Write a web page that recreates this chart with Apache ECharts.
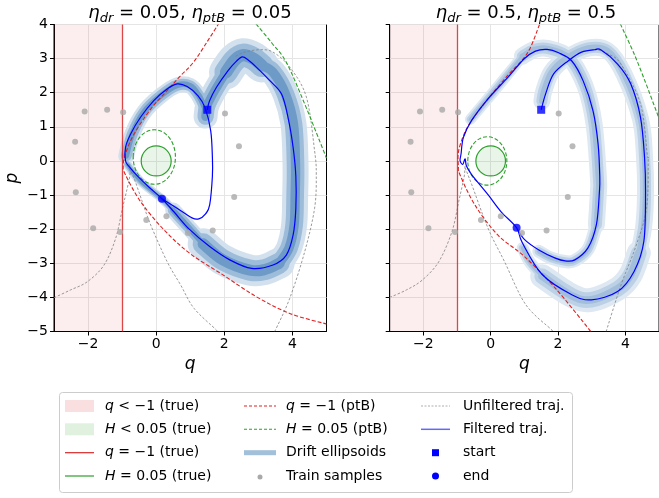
<!DOCTYPE html>
<html><head><meta charset="utf-8">
<script src="https://cdn.jsdelivr.net/npm/echarts@6/dist/echarts.min.js"></script>
<style>html,body{margin:0;padding:0;background:#fff}#c{width:659px;height:498px}</style>
</head><body><div id="c"></div>
<script>
// ---------------- data ----------------
const xTicks = [-2, 0, 2, 4];
const yRange = [-5, 4];
const xRange = [-3, 5];
const titleLeft = '{e|η}{s|dr}{n| = 0.05, }{e|η}{s|ptB}{n| = 0.05}';
const titleRight = '{e|η}{s|dr}{n| = 0.5, }{e|η}{s|ptB}{n| = 0.5}';
const qBoundary = -1;                 // q = -1 (true)
const hCircleTrue = [0, 0, 0.44, 0.44];
const hEllipsePtBLeft = [-0.055, 0.115, 0.62, 0.80];
const hEllipsePtBRight = [-0.1, 0.0, 0.58, 0.71];

const trainSamples = [[-2.10,1.45],[-1.44,1.50],[-0.97,1.43],[-2.38,0.56],[-2.36,-0.92],[-1.85,-1.97],[-1.06,-2.08],
  [-0.29,-1.73],[0.30,-1.62],[0.93,-2.11],[1.66,-2.04],[2.29,-1.06],[2.43,0.43],[2.02,1.39]];

const startLeft = [1.5, 1.5], endLeft = [0.17, -1.11];
const startRight = [1.5, 1.5], endRight = [0.77, -1.96];

const leftFiltered = [[1.5,1.5],[1.57,1.77],[1.77,2.16],[2.11,2.65],[2.35,2.92],[2.53,3.05],[2.7,2.96],[2.94,2.75],[3.33,2.36],
  [3.68,1.96],[3.87,1.28],[4.02,0.4],[4.1,-0.45],[4.1,-1.39],[4.02,-2.17],[3.82,-2.76],[3.43,-3.05],[2.8,-3.15],[2.16,-2.9],
  [1.57,-2.51],[0.97,-2.0],[0.52,-1.49],[0.17,-1.11],[-0.2,-0.78],[-0.56,-0.43],[-0.78,-0.18],[-0.9,0.0],[-0.9,0.4],
  [-0.75,0.79],[-0.46,1.28],[-0.07,1.77],[0.32,2.11],[0.62,2.26],[0.91,2.18],[1.23,1.91],[1.43,1.57],[1.6,0.89],[1.65,0.11],
  [1.65,-0.45],[1.57,-1.29],[1.45,-1.55],[1.25,-1.7],[1.05,-1.67],[0.6,-1.38],[0.17,-1.11]];
const rightFiltered = [[1.5,1.5],[1.63,1.96],[1.87,2.55],[2.31,2.94],[2.7,3.19],[3.09,3.26],[3.28,3.25],[3.77,2.84],[4.16,2.26],
  [4.45,1.28],[4.57,0.11],[4.6,-0.9],[4.55,-2.36],[4.26,-3.24],[3.77,-3.83],[2.99,-4.07],[2.41,-3.92],[1.53,-3.33],[0.94,-2.4],
  [0.77,-1.96],[0.31,-1.49],[-0.08,-0.99],[-0.56,-0.41],[-0.72,-0.15],[-0.76,0.06],[-0.83,-0.1],[-0.91,0.01],[-0.88,0.21],
  [-0.81,0.69],[-0.57,1.18],[-0.08,1.82],[0.51,2.45],[0.99,2.99],[1.33,3.22],[1.68,3.27],[2.02,3.17],[2.41,2.93],[2.75,2.34],
  [3.04,1.47],[3.19,0.5],[3.24,-0.45],[3.23,-0.9],[3.14,-1.87],[2.89,-2.55],[2.5,-2.9],[2.21,-2.93],[1.92,-2.85],[1.43,-2.61],
  [1.0,-2.3],[0.77,-1.96]];

const leftUnfilteredA = [[-3.0,-4.01],[-2.51,-3.78],[-2.02,-3.54],[-1.53,-3.05],[-1.19,-2.27],[-0.99,-1.39],[-0.85,-0.8],[-0.77,-0.41],[-0.78,-0.1]];
const leftUnfilteredB = [[-0.8,-0.2],[-0.65,-0.51],[-0.41,-1.19],[-0.16,-1.88],[0.32,-2.95],[0.72,-3.64],[1.11,-4.32],[1.77,-4.96],[1.82,-5.05]];
const leftUnfilteredC = [[3.48,-5.0],[3.92,-4.03],[4.36,-2.66],[4.65,-1.39],[4.7,-0.4],[4.65,0.3],[4.41,1.87],[3.92,2.75],[3.43,3.19],[3.04,3.26],[2.6,3.19],[2.3,3.05]];
const rightUnfilteredA = [[-3.0,-4.0],[-2.5,-3.78],[-2.03,-3.49],[-1.54,-2.95],[-1.15,-2.07],[-0.95,-1.19],[-0.85,-0.75],[-0.78,-0.41],[-0.76,-0.1]];
const rightUnfilteredB = [[-0.76,-0.2],[-0.56,-0.7],[-0.08,-1.97],[0.41,-2.95],[1.04,-4.21],[1.82,-4.96],[1.86,-5.05]];
const rightUnfilteredC = [[3.43,-5.0],[3.87,-3.64],[4.31,-2.51],[4.63,-1.39],[4.68,0.0],[4.65,0.2],[4.45,1.67],[3.87,2.84],[3.48,3.14],[3.2,3.25]];

const leftQBoundPtB = [[1.85,4.05],[1.5,3.5],[1.1,2.9],[0.69,2.47],[0.32,2.06],[-0.16,1.52],[-0.65,0.79],[-0.9,0.21],[-0.97,-0.15],
  [-0.9,-0.41],[-0.46,-1.19],[0.23,-2.02],[1.0,-2.72],[1.96,-3.34],[2.94,-3.98],[3.92,-4.47],[5.0,-4.78]];
const rightQBoundPtB = [[1.45,4.0],[1.09,3.16],[0.5,2.5],[-0.08,1.82],[-0.57,1.18],[-0.81,0.74],[-0.96,0.25],[-0.96,-0.15],
  [-0.91,-0.41],[-0.47,-1.29],[0.21,-2.17],[1.0,-2.8],[1.92,-3.73],[2.94,-4.96],[2.97,-5.05]];
const leftHBoundPtB = [[2.93,4.02],[3.4,3.45],[3.82,2.89],[4.36,1.67],[5.0,0.08]];
const rightHBoundPtB = [[3.85,4.02],[4.26,3.14],[4.6,2.3],[4.84,1.67],[5.0,1.25]];

// drift-ellipsoid band centre lines
const leftBandArm = [[-0.88,0.15],[-0.7,0.79],[-0.36,1.43],[0.13,1.91],[0.62,2.22],[1.0,2.2],[1.25,1.92],[1.43,1.55]];
const leftBandUp = [[1.45,1.3],[1.5,1.62],[1.72,2.06],[2.05,2.6]];
const leftBandPeak = [[2.05,2.6],[2.3,2.95],[2.55,3.1],[2.85,3.0],[3.1,2.8]];
const leftBandRight = [[3.1,2.8],[3.43,2.6],[3.8,1.95],[4.03,1.09],[4.09,-0.09],[4.08,-1.0],[4.05,-1.88],[3.9,-2.55],[3.61,-3.0]];
const leftBandBottom = [[3.61,-3.0],[3.2,-3.18],[2.75,-3.2],[1.96,-2.9],[1.38,-2.43]];
const leftBandTaper = [[1.38,-2.43],[0.99,-1.99],[0.5,-1.45]];
const leftBandTail = [[0.5,-1.45],[0.18,-1.12],[-0.46,-0.6],[-0.85,-0.1]];
const rightBandOuter = [[1.52,1.75],[1.58,2.06],[1.8,2.6],[2.21,2.99],[2.89,3.31],[3.48,3.23],[3.96,2.55],[4.45,1.23],[4.57,0.11],[4.6,-0.9],[4.55,-1.88],[4.4,-2.7]];
const rightBandOuterBottom = [[4.4,-2.7],[4.15,-3.35],[3.77,-3.75],[2.99,-4.07],[2.41,-3.95],[1.53,-3.38]];
const rightBandOuterTail = [[1.53,-3.38],[1.15,-2.95],[0.95,-2.55]];
const rightBandArm = [[-0.6,1.22],[0.07,2.01],[0.6,2.65],[0.94,3.07]];
const rightBandArch = [[0.94,3.07],[1.3,3.27],[1.68,3.3],[2.31,3.04],[2.8,2.21],[3.07,1.09],[3.2,-0.5],[3.2,-0.9],[3.14,-1.87]];
const rightBandInnerBottom = [[3.14,-1.87],[2.9,-2.58],[2.5,-2.92],[2.21,-2.95],[1.8,-2.85],[1.43,-2.65]];

const legendLabels = ['{i|q} < −1 (true)', '{i|H} < 0.05 (true)', '{i|q} = −1 (true)', '{i|H} = 0.05 (true)',
  '{i|q} = −1 (ptB)', '{i|H} = 0.05 (ptB)', 'Drift ellipsoids', 'Train samples',
  'Unfiltered traj.', 'Filtered traj.', 'start', 'end'];

// ---------------- rendering ----------------
const FONT = 'DejaVu Sans';
const RED = '#d62728', GREEN = '#2ca02c', BLUE = '#0000ff', GRAY = '#808080';
const chart = echarts.init(document.getElementById('c'), null, {renderer: 'canvas'});
const fmt = v => String(v).replace('-', '\u2212');

function ax(gi) { return {xAxisIndex: gi, yAxisIndex: gi}; }
// smooth curve through the data points (Catmull-Rom), positioned by the axes' scales
function curve(gi, pts, style, z) {
  return Object.assign({type: 'custom', coordinateSystem: 'cartesian2d', clip: true, silent: true, z: z,
    animation: false, data: pts,
    renderItem(params, api) {
      if (params.dataIndex !== 0) return null;
      const c = pts.map(p => api.coord(p));
      const n = c.length, t = 1 / 6;
      let d = 'M' + c[0][0].toFixed(2) + ' ' + c[0][1].toFixed(2);
      for (let i = 0; i < n - 1; i++) {
        const p0 = c[Math.max(i - 1, 0)], p1 = c[i], p2 = c[i + 1], p3 = c[Math.min(i + 2, n - 1)];
        d += ' C' + (p1[0] + (p2[0] - p0[0]) * t).toFixed(2) + ' ' + (p1[1] + (p2[1] - p0[1]) * t).toFixed(2) + ' ' +
          (p2[0] - (p3[0] - p1[0]) * t).toFixed(2) + ' ' + (p2[1] - (p3[1] - p1[1]) * t).toFixed(2) + ' ' +
          p2[0].toFixed(2) + ' ' + p2[1].toFixed(2);
      }
      return {type: 'path', shape: {pathData: d}, style: Object.assign({fill: 'none'}, style)};
    }}, ax(gi));
}
function ellipse(gi, e, style, z) {
  return Object.assign({type: 'custom', coordinateSystem: 'cartesian2d', clip: true, silent: true, z: z,
    animation: false, data: [e],
    renderItem(params, api) {
      const c = api.coord([api.value(0), api.value(1)]);
      const s = api.size([api.value(2), api.value(3)]);
      return {type: 'ellipse', shape: {cx: c[0], cy: c[1], rx: s[0], ry: s[1]}, style: style};
    }}, ax(gi));
}
function panel(gi, P) {
  const s = [];
  s.push(Object.assign({type: 'scatter', data: [], silent: true, animation: false, z: 1,
    markArea: {silent: true, itemStyle: {color: 'rgba(214,39,40,0.08)'}, data: [[{xAxis: xRange[0]}, {xAxis: qBoundary}]]},
    markLine: {silent: true, symbol: 'none', label: {show: false}, animation: false,
      lineStyle: {color: 'rgba(214,39,40,0.85)', width: 1.3, type: 'solid'}, data: [{xAxis: qBoundary}]}}, ax(gi)));
  s.push(ellipse(gi, hCircleTrue, {fill: 'rgba(44,160,44,0.1)', stroke: GREEN, lineWidth: 1.2}, 2));
  // drift ellipsoid band: opaque layered strokes (outer halo, mid, core)
  P.layers.forEach((L, li) => {
    P.bands.forEach(b => s.push(curve(gi, b[0], {stroke: L[1], lineWidth: b[1] * L[0], lineCap: 'round', lineJoin: 'round'}, 2 + li * 0.01)));
  });
  P.unfiltered.forEach(u => s.push(curve(gi, u, {stroke: GRAY, lineWidth: 0.8, lineDash: [2.5, 1.8]}, 3)));
  s.push(curve(gi, P.qPtB, {stroke: '#e02020', lineWidth: 1.1, lineDash: [4, 2]}, 3));
  s.push(curve(gi, P.hPtB, {stroke: GREEN, lineWidth: 1.1, lineDash: [4, 2]}, 3));
  s.push(ellipse(gi, P.hEll, {fill: 'none', stroke: GREEN, lineWidth: 1.1, lineDash: [4, 2]}, 3));
  s.push(curve(gi, P.filtered, {stroke: BLUE, lineWidth: 1.2, lineJoin: 'round'}, 4));
  s.push(Object.assign({type: 'scatter', data: trainSamples, symbolSize: 6, silent: true, animation: false, z: 5,
    itemStyle: {color: '#a9a9a9'}}, ax(gi)));
  s.push(Object.assign({type: 'scatter', data: [P.start], symbol: 'rect', symbolSize: 8, silent: true, animation: false, z: 6,
    itemStyle: {color: BLUE}}, ax(gi)));
  s.push(Object.assign({type: 'scatter', data: [P.end], symbol: 'circle', symbolSize: 8, silent: true, animation: false, z: 6,
    itemStyle: {color: BLUE}}, ax(gi)));
  return s;
}

const series = [].concat(
  panel(0, {bands: [[leftBandArm, 16], [leftBandUp, 24], [leftBandPeak, 34], [leftBandRight, 26], [leftBandBottom, 31], [leftBandTaper, 16], [leftBandTail, 9]],
    layers: [[1, '#d3e1ee'], [0.68, '#9dbcd9'], [0.36, '#6d9ac6']],
    unfiltered: [leftUnfilteredA, leftUnfilteredB, leftUnfilteredC], qPtB: leftQBoundPtB, hPtB: leftHBoundPtB,
    hEll: hEllipsePtBLeft, filtered: leftFiltered, start: startLeft, end: endLeft}),
  panel(1, {bands: [[rightBandOuter, 17], [rightBandOuterBottom, 24], [rightBandOuterTail, 12], [rightBandArm, 11], [rightBandArch, 17], [rightBandInnerBottom, 13]],
    layers: [[1, '#dde8f2'], [0.65, '#bcd1e5'], [0.32, '#a2bedb']],
    unfiltered: [rightUnfilteredA, rightUnfilteredB, rightUnfilteredC], qPtB: rightQBoundPtB, hPtB: rightHBoundPtB,
    hEll: hEllipsePtBRight, filtered: rightFiltered, start: startRight, end: endRight})
);

function xAxis(gi) {
  return {gridIndex: gi, type: 'value', min: xRange[0], max: xRange[1],
    axisLine: {show: true, onZero: false, lineStyle: {color: '#000', width: 1}},
    axisTick: {show: true, length: 4, customValues: xTicks, lineStyle: {color: '#000'}},
    axisLabel: {customValues: xTicks, formatter: fmt, fontSize: 14, fontFamily: FONT, color: '#000', margin: 6},
    splitLine: {show: true, lineStyle: {color: '#e5e5e5', width: 1}},
    name: 'q', nameLocation: 'middle', nameGap: 12,
    nameTextStyle: {fontSize: 17, fontStyle: 'italic', fontFamily: FONT, color: '#000'}};
}
function yAxis(gi) {
  return {gridIndex: gi, type: 'value', min: yRange[0], max: yRange[1], interval: 1,
    axisLine: {show: true, onZero: false, lineStyle: {color: '#000', width: 1}},
    axisTick: {show: true, length: 4, lineStyle: {color: '#000'}},
    axisLabel: {show: gi === 0, formatter: fmt, fontSize: 14, fontFamily: FONT, color: '#000', margin: 6},
    splitLine: {show: true, lineStyle: {color: '#e5e5e5', width: 1}},
    name: gi === 0 ? 'p' : '', nameLocation: 'middle', nameGap: 33,
    nameTextStyle: {fontSize: 17, fontStyle: 'italic', fontFamily: FONT, color: '#000'}};
}

const titleRich = {
  n: {fontFamily: FONT, fontSize: 18, fill: '#000', lineHeight: 24, verticalAlign: 'middle'},
  e: {fontFamily: FONT, fontSize: 18, fontStyle: 'italic', fill: '#000', lineHeight: 24, verticalAlign: 'middle'},
  s: {fontFamily: FONT, fontSize: 13, fontStyle: 'italic', fill: '#000', lineHeight: 14, verticalAlign: 'bottom'}
};
const graphic = [
  {type: 'text', x: 190, y: 13, style: {text: titleLeft, rich: titleRich, align: 'center', verticalAlign: 'middle'}},
  {type: 'text', x: 526, y: 13, style: {text: titleRight, rich: titleRich, align: 'center', verticalAlign: 'middle'}},
  {type: 'rect', shape: {x: 59.5, y: 392.5, width: 513, height: 100, r: 3}, style: {fill: '#fff', stroke: '#cccccc', lineWidth: 1}}
];
const colIcon = [65, 244, 421], colIconW = [29, 32, 29], colText = [105, 286, 463];
const rowY = [406, 429.3, 452.7, 476];
legendLabels.forEach((lab, k) => {
  const c = Math.floor(k / 4), r = k % 4;
  const x0 = colIcon[c], w = colIconW[c], y = rowY[r], xm = x0 + w / 2;
  let icon;
  switch (k) {
    case 0: icon = {type: 'rect', shape: {x: x0, y: y - 6, width: w, height: 12}, style: {fill: 'rgba(214,39,40,0.15)'}}; break;
    case 1: icon = {type: 'rect', shape: {x: x0, y: y - 6, width: w, height: 12}, style: {fill: 'rgba(44,160,44,0.15)'}}; break;
    case 2: icon = {type: 'line', shape: {x1: x0, y1: y, x2: x0 + w, y2: y}, style: {stroke: RED, lineWidth: 1.2}}; break;
    case 3: icon = {type: 'line', shape: {x1: x0, y1: y, x2: x0 + w, y2: y}, style: {stroke: GREEN, lineWidth: 1.2}}; break;
    case 4: icon = {type: 'line', shape: {x1: x0, y1: y, x2: x0 + w, y2: y}, style: {stroke: '#e02020', lineWidth: 1.1, lineDash: [3, 2]}}; break;
    case 5: icon = {type: 'line', shape: {x1: x0, y1: y, x2: x0 + w, y2: y}, style: {stroke: GREEN, lineWidth: 1.1, lineDash: [3, 2]}}; break;
    case 6: icon = {type: 'line', shape: {x1: x0, y1: y, x2: x0 + w, y2: y}, style: {stroke: 'rgba(70,130,180,0.5)', lineWidth: 5}}; break;
    case 7: icon = {type: 'circle', shape: {cx: xm, cy: y + 1, r: 2.5}, style: {fill: '#a9a9a9'}}; break;
    case 8: icon = {type: 'line', shape: {x1: x0, y1: y, x2: x0 + w, y2: y}, style: {stroke: '#999', lineWidth: 0.8, lineDash: [2, 1.5]}}; break;
    case 9: icon = {type: 'line', shape: {x1: x0, y1: y, x2: x0 + w, y2: y}, style: {stroke: 'rgba(0,0,255,0.6)', lineWidth: 1.5}}; break;
    case 10: icon = {type: 'rect', shape: {x: xm - 3.5, y: y - 3.5, width: 7, height: 7}, style: {fill: BLUE}}; break;
    default: icon = {type: 'circle', shape: {cx: xm, cy: y, r: 3.5}, style: {fill: BLUE}};
  }
  graphic.push(icon);
  graphic.push({type: 'text', x: colText[c], y: y, style: {text: lab, fontFamily: FONT, fontSize: 14, fill: '#000',
    verticalAlign: 'middle', rich: {i: {fontFamily: FONT, fontSize: 14, fontStyle: 'italic', fill: '#000'}}}});
});

chart.setOption({
  animation: false,
  grid: [
    {left: 54, top: 24.5, width: 272.5, height: 307, show: true, borderColor: '#000', borderWidth: 1, backgroundColor: 'transparent'},
    {left: 389.7, top: 24.5, width: 274, height: 307, show: true, borderColor: '#000', borderWidth: 1, backgroundColor: 'transparent'}
  ],
  xAxis: [xAxis(0), xAxis(1)],
  yAxis: [yAxis(0), yAxis(1)],
  series: series,
  graphic: graphic
});
</script></body></html>
